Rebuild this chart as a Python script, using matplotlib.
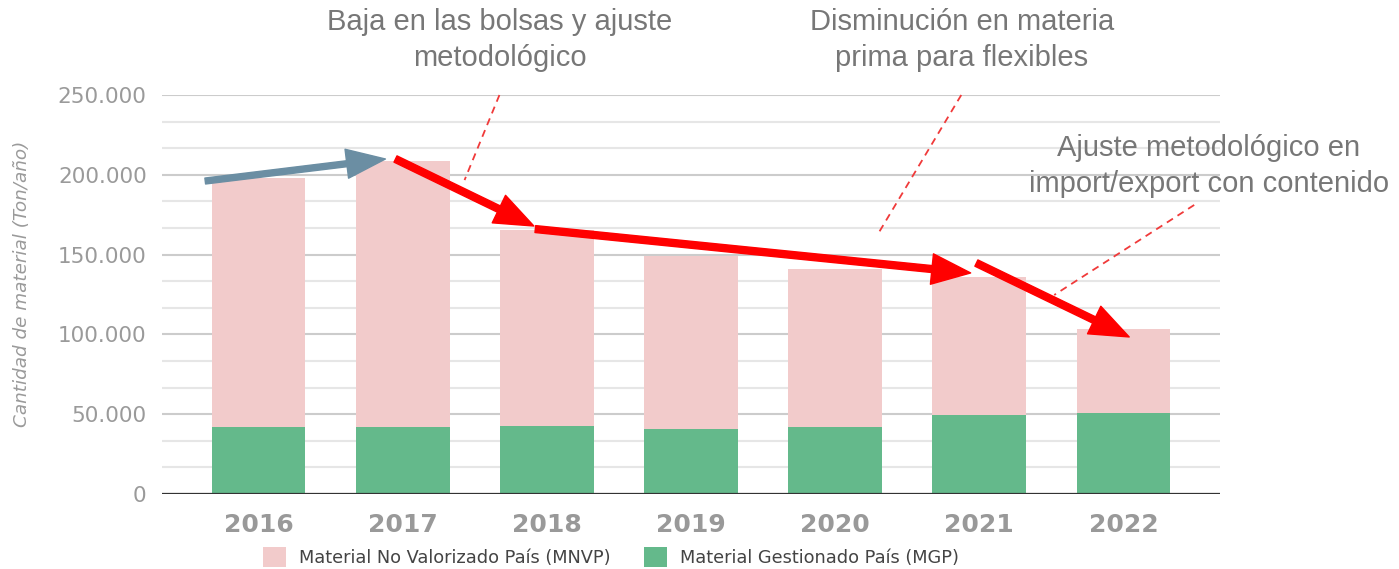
import matplotlib
matplotlib.use('Agg')

import matplotlib.pyplot as plt
import numpy as np
from matplotlib.patches import Patch

years = ['2016', '2017', '2018', '2019', '2020', '2021', '2022']
mgp = [41800, 41800, 42600, 40500, 41800, 49500, 50600]
mnvp = [156000, 167000, 122800, 108600, 99400, 86300, 53000]

label_mnvp = 'Material No Valorizado País (MNVP)'
label_mgp = 'Material Gestionado País (MGP)'

PINK = '#f2cbcb'
GREEN = '#64b98b'

fig = plt.figure(figsize=(13.99, 5.69), dpi=100)
ax = fig.add_axes([162 / 1399, 1 - 494 / 569, (1220 - 162) / 1399, (494 - 95) / 569])

x = np.arange(len(years))
ax.bar(x, mgp, width=0.65, color=GREEN, zorder=3)
ax.bar(x, mnvp, width=0.65, bottom=mgp, color=PINK, zorder=3)

ax.set_xlim(-0.67, 6.67)
ax.set_ylim(0, 250000)

# grid: major every 50.000, light minor lines in between
for v in np.arange(0, 250001, 50000 / 3):
    major = abs(v / 50000 - round(v / 50000)) < 1e-6
    ax.axhline(v, color='#cccccc' if major else '#e6e6e6', lw=1.5, zorder=1)
ax.axhline(0, color='#333333', lw=1.6, zorder=4)

ax.set_yticks(np.arange(0, 250001, 50000))
ax.set_yticklabels(['0' if v == 0 else f'{v // 1000}.000' for v in range(0, 250001, 50000)])
ax.set_xticks(x)
ax.set_xticklabels(years)
ax.tick_params(axis='y', length=0, pad=11, labelsize=15.5, labelcolor='#9a9a9a')
ax.tick_params(axis='x', length=0, pad=14, labelsize=18, labelcolor='#999999')
for t in ax.get_xticklabels():
    t.set_fontweight('bold')
for s in ax.spines.values():
    s.set_visible(False)

fig.text(22 / 1399, 1 - 284 / 569, 'Cantidad de material (Ton/año)', rotation=90,
         ha='center', va='center', fontsize=13.2, style='italic', color='#9a9a9a')

# trend arrows
ax.annotate('', xy=(0.88, 209900), xytext=(-0.37, 196100),
            arrowprops=dict(color='#6b8ea3', width=4.3, headwidth=21, headlength=28, shrink=0),
            annotation_clip=False, zorder=6)
red_arrows = [((1.91, 167900), (0.95, 209900)),
              ((4.94, 138500), (1.92, 166000)),
              ((6.04, 98400), (4.98, 144700))]
for tip, tail in red_arrows:
    ax.annotate('', xy=tip, xytext=tail,
                arrowprops=dict(color='#ff0000', width=5, headwidth=22, headlength=28, shrink=0),
                annotation_clip=False, zorder=6)

# dashed leader lines
leaders = [((1.671, 250000), (1.429, 196700)),
           ((4.875, 250000), (4.293, 162300)),
           ((6.491, 181100), (5.520, 124700))]
for a, b in leaders:
    ax.plot([a[0], b[0]], [a[1], b[1]], color='#f03a3a', lw=1.3, ls=(0, (4, 3)),
            clip_on=False, zorder=5)

note_kw = dict(ha='center', va='center', fontsize=21, color='#777777',
               family='Liberation Sans', linespacing=1.35)
fig.text(500 / 1399, 1 - 40 / 569, 'Baja en las bolsas y ajuste\nmetodológico', **note_kw)
fig.text(962 / 1399, 1 - 40 / 569, 'Disminución en materia\nprima para flexibles', **note_kw)
fig.text(1209 / 1399, 1 - 166 / 569, 'Ajuste metodológico en\nimport/export con contenido', **note_kw)

handles = [Patch(facecolor=PINK, label=label_mnvp), Patch(facecolor=GREEN, label=label_mgp)]
fig.legend(handles=handles, loc='center', bbox_to_anchor=(611 / 1399, 1 - 557 / 569),
           ncol=2, frameon=False, fontsize=12.8, labelcolor='#444444',
           handlelength=1.3, handleheight=1.3, handletextpad=0.7, columnspacing=1.9)

fig.savefig('out.png', dpi=100)
